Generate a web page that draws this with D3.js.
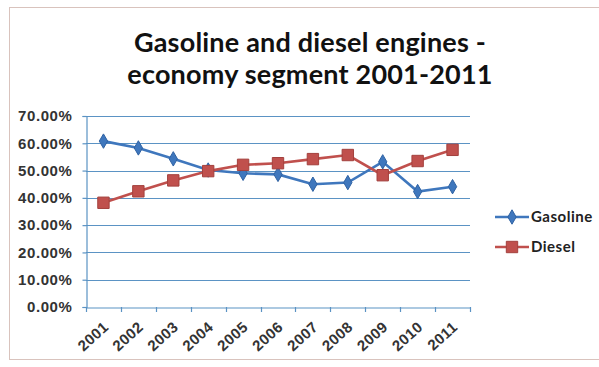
<!DOCTYPE html>
<html>
<head>
<meta charset="utf-8">
<script src="https://cdn.jsdelivr.net/npm/d3@7"></script>
<style>
  body { margin: 0; background: #fff; }
  svg { display: block; font-family: Lato, "Open Sans", sans-serif; }
</style>
</head>
<body>
<svg id="chart" width="599" height="367"></svg>
<script>
const years = ['2001', '2002', '2003', '2004', '2005', '2006', '2007', '2008', '2009', '2010', '2011']
const gasoline = [60.8, 58.3, 54.3, 50.2, 49.0, 48.6, 45.0, 45.6, 53.2, 42.3, 44.1]
const diesel = [38.2, 42.4, 46.4, 49.8, 52.1, 52.7, 54.2, 55.7, 48.3, 53.5, 57.6]
const yTicks = [0, 10, 20, 30, 40, 50, 60, 70]
const titleLines = ['Gasoline and diesel engines -', 'economy segment 2001-2011']

const svg = d3.select('#chart')
const width = 599, height = 367
const margin = { top: 116, right: 129, bottom: 60, left: 86 }

// outer chart border
svg.append('rect')
    .attr('x', 9.5).attr('y', 7.5)
    .attr('width', width).attr('height', 352)
    .attr('fill', 'none')
    .attr('stroke', '#d9c3bd')

svg.append('g').selectAll('text')
    .data(titleLines)
    .enter().append('text')
    .attr('x', 310)
    .attr('y', (d, i) => 52 + i * 32)
    .attr('text-anchor', 'middle')
    .style('font-size', '27px')
    .style('font-weight', 'bold')
    .style('letter-spacing', '0.2px')
    .style('fill', '#111')
    .text(d => d)

const x = d3.scaleBand()
    .domain(years)
    .range([margin.left, width - margin.right])

const y = d3.scaleLinear()
    .domain([0, 70])
    .range([height - margin.bottom, margin.top])

const gridColor = '#5b93c4'

// gridlines
svg.append('g')
    .selectAll('line')
    .data(yTicks.filter(d => d > 0))
    .enter().append('line')
    .attr('x1', margin.left)
    .attr('x2', width - margin.right)
    .attr('y1', d => Math.round(y(d)) + 0.5)
    .attr('y2', d => Math.round(y(d)) + 0.5)
    .attr('stroke', gridColor)
    .attr('stroke-width', 1.2)

// y axis
const yAxis = svg.append('g')
    .attr('transform', `translate(${margin.left + 0.5},0)`)
    .call(d3.axisLeft(y).tickValues(yTicks).tickSize(4).tickPadding(10)
        .tickFormat(d => d.toFixed(2) + '%'))
yAxis.selectAll('path, line').attr('stroke', gridColor).attr('stroke-width', 1.2)
yAxis.selectAll('text')
    .style('font-size', '15px')
    .style('font-weight', 'bold')
    .style('letter-spacing', '0.6px')
    .style('fill', '#333')

// x axis
const xAxis = svg.append('g')
    .attr('transform', `translate(0,${Math.round(y(0)) + 0.5})`)
    .call(d3.axisBottom(x).tickSize(0).tickPadding(0))
xAxis.select('.domain').attr('stroke', gridColor).attr('stroke-width', 1.2)
xAxis.selectAll('text')
    .attr('text-anchor', 'end')
    .attr('y', 0)
    .attr('dy', 0)
    .attr('transform', 'translate(6,21) rotate(-42)')
    .style('font-size', '15px')
    .style('font-weight', 'bold')
    .style('letter-spacing', '0.4px')
    .style('fill', '#333')

// category boundary ticks
svg.append('g')
    .selectAll('line')
    .data(years.concat(['end']))
    .enter().append('line')
    .attr('x1', (d, i) => Math.round(margin.left + i * x.step()) + 0.5)
    .attr('x2', (d, i) => Math.round(margin.left + i * x.step()) + 0.5)
    .attr('y1', y(0))
    .attr('y2', y(0) + 5)
    .attr('stroke', gridColor)
    .attr('stroke-width', 1.2)

const cx = d => x(d) + x.bandwidth() / 2
const line = d3.line()
    .x((d, i) => cx(years[i]))
    .y(d => y(d))

const series = [
    { name: 'Gasoline', values: gasoline, color: '#3f77bd', shape: d3.symbolDiamond, size: 60, stroke: '#2f62a3' },
    { name: 'Diesel', values: diesel, color: '#c0504d', shape: d3.symbolSquare, size: 130, stroke: '#a3403d' }
]

series.forEach(s => {
    svg.append('path')
        .datum(s.values)
        .attr('fill', 'none')
        .attr('stroke', s.color)
        .attr('stroke-width', 2.6)
        .attr('d', line)

    svg.append('g')
        .selectAll('path')
        .data(s.values)
        .enter().append('path')
        .attr('transform', (d, i) => `translate(${cx(years[i])},${y(d)})`)
        .attr('d', d3.symbol().type(s.shape).size(s.size))
        .attr('fill', s.color)
        .attr('stroke', s.stroke)
        .attr('stroke-width', 1)
})

// legend
const legend = svg.selectAll('.legend')
    .data(series)
    .enter().append('g')
    .attr('class', 'legend')
    .attr('transform', (d, i) => `translate(495,${217 + i * 30})`)

legend.append('line')
    .attr('x1', 0).attr('x2', 34)
    .attr('stroke', d => d.color)
    .attr('stroke-width', 2.6)
legend.append('path')
    .attr('transform', 'translate(17,0)')
    .attr('d', d => d3.symbol().type(d.shape).size(d.size)())
    .attr('fill', d => d.color)
    .attr('stroke', d => d.stroke)
legend.append('text')
    .attr('x', 36)
    .attr('dy', '0.35em')
    .style('font-size', '15px')
    .style('font-weight', 'bold')
    .style('letter-spacing', '0.5px')
    .style('fill', '#222')
    .text(d => d.name)
</script>
</body>
</html>
